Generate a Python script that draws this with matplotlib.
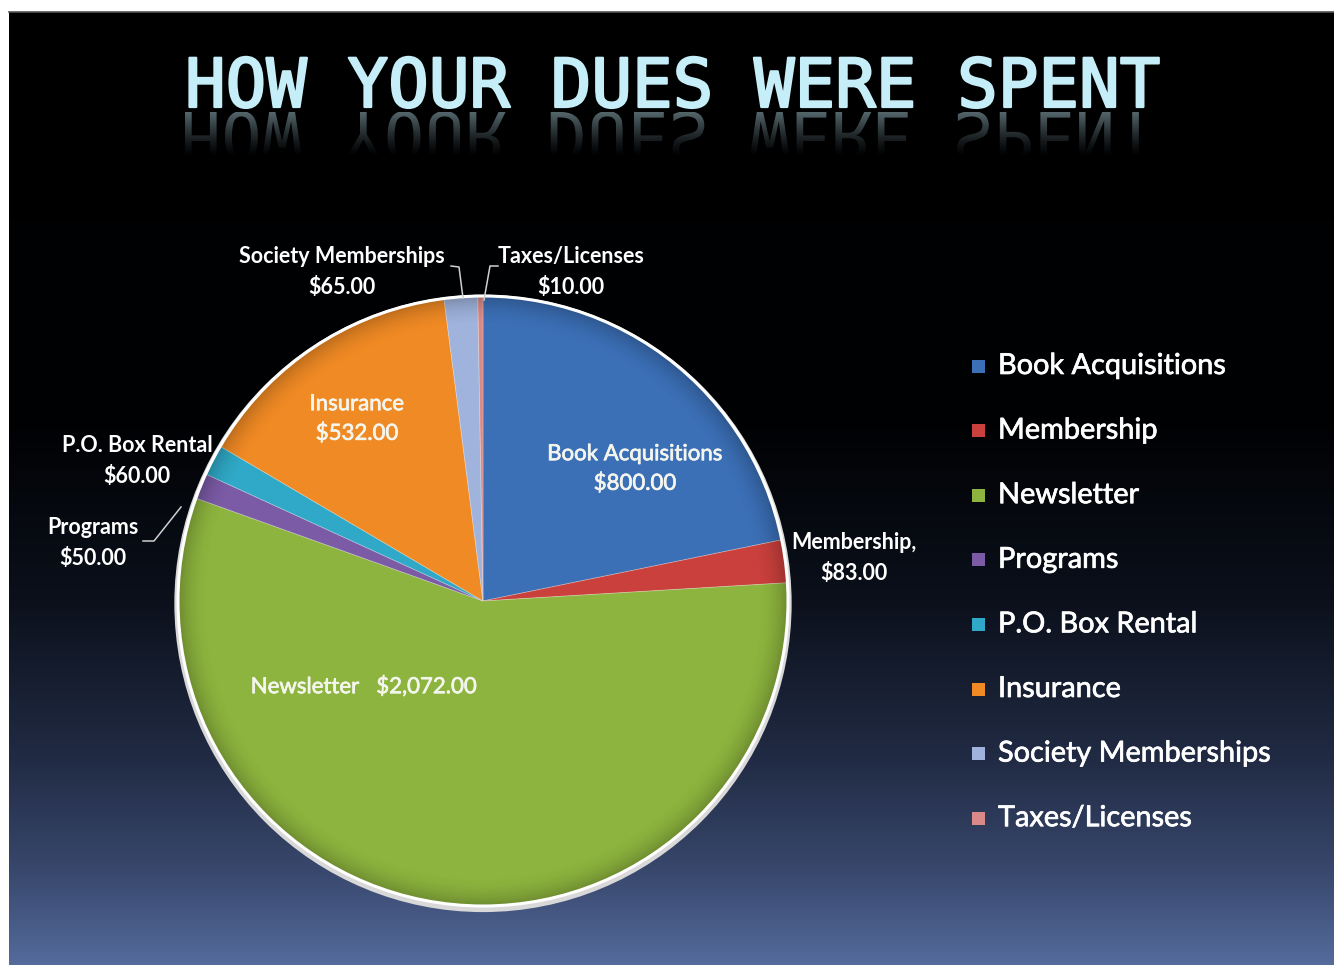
import numpy as np
import matplotlib
matplotlib.use('Agg')
import matplotlib.pyplot as plt
import matplotlib.patheffects as pe
from matplotlib.patches import Circle, PathPatch, Rectangle
from matplotlib.textpath import TextPath
from matplotlib.font_manager import FontProperties
from matplotlib.colors import to_rgb
from matplotlib.transforms import Affine2D

# ---------------- data ----------------
categories = ["Book Acquisitions", "Membership", "Newsletter", "Programs",
              "P.O. Box Rental", "Insurance", "Society Memberships", "Taxes/Licenses"]
amounts = [800, 83, 2072, 50, 60, 532, 65, 10]
title = "HOW YOUR DUES WERE SPENT"

# ---------------- style ----------------
colors = ["#3b6fb6", "#c9403c", "#8db43e", "#7b5ba6",
          "#2fa9c7", "#f08a24", "#9fb3dc", "#d98a88"]
FONT = "Lato"

W, H = 1334, 967
fig = plt.figure(figsize=(W / 100, H / 100), dpi=100)
fig.patch.set_facecolor("white")

# background (pixel coordinates)
bg = fig.add_axes([0, 0, 1, 1])
bg.set_xlim(0, W)
bg.set_ylim(H, 0)
bg.axis("off")
stops_y = [12, 430, 600, 760, 870, 965]
stops_c = ["#000000", "#010204", "#0b101b", "#212b44", "#38476c", "#546b9c"]
ys = np.arange(12, 966)
rgb = np.array([to_rgb(c) for c in stops_c])
grad = np.stack([np.interp(ys, stops_y, rgb[:, k]) for k in range(3)], axis=-1)[:, None, :]
bg.imshow(grad, extent=(9, W, 965, 12), origin="upper", aspect="auto",
          interpolation="bilinear", zorder=0)
bg.plot([9, W], [12, 12], color="#555555", lw=1.2, zorder=1)

# title
tx, tbase = 185, 107
tcol = "#c6eef8"
fig.text(tx / W, 1 - tbase / H, title, family="DejaVu Sans Mono", weight="normal",
         fontsize=48.6, color=tcol, ha="left", va="baseline",
         path_effects=[pe.withStroke(linewidth=1.6, foreground=tcol)])

# title reflection
fp = FontProperties(family="DejaVu Sans Mono", weight="normal")
tp = TextPath((0, 0), title, size=67.5, prop=fp)
x0 = tp.get_extents().x0
refl = PathPatch(tp, facecolor="none", edgecolor="none",
                 transform=Affine2D().translate(tx - x0, tbase + 5) + bg.transData)
bg.add_patch(refl)
ry = np.linspace(0, 1, 60)
rimg = np.zeros((60, 1, 4))
rimg[:, 0, :3] = to_rgb("#a9cdd6")
rimg[:, 0, 3] = 0.5 * np.clip(1 - ry / 0.75, 0, 1) ** 1.3
im = bg.imshow(rimg, extent=(170, 1180, tbase + 65, tbase + 5), origin="upper",
               aspect="auto", interpolation="bilinear", zorder=2)
im.set_clip_path(refl)

# ---------------- pie ----------------
R = 305
cx, cy = 483, 601
half = 350
ax = fig.add_axes([(cx - half) / W, (H - cy - half) / H, 2 * half / W, 2 * half / H])
ax.patch.set_alpha(0)
wedges, _ = ax.pie(amounts, colors=colors, startangle=90, counterclock=False, radius=1,
                   wedgeprops=dict(linewidth=0.6, edgecolor=(1, 1, 1, 0.3)))
lim = half / R
ax.axis("off")
ax.add_patch(Circle((0, -0.008), 1.012, facecolor="#d8d8d8", edgecolor="none", zorder=0))

# subtle bevel shading near the rim
n = 400
g = np.linspace(-1, 1, n)
gx, gy = np.meshgrid(g, g)
rr = np.sqrt(gx ** 2 + gy ** 2)
shade = np.zeros((n, n, 4))
shade[..., 3] = np.clip((rr - 0.9) / 0.1, 0, 1) ** 2 * 0.22
sim = ax.imshow(shade, extent=(-1, 1, -1, 1), origin="lower", zorder=4,
                interpolation="bilinear")
sim.set_clip_path(Circle((0, 0), 1.0, transform=ax.transData))
ax.set_xlim(-lim, lim)
ax.set_ylim(-lim, lim)
ax.add_patch(Circle((0, 0), 1.0, fill=False, edgecolor="white", lw=2.2, zorder=5))

def px(p, q):
    return ((p - cx) / R, (cy - q) / R)

inside = {
    0: (635, 469),
    2: (364, 687),
    5: (357, 419),
}
for i, (p, q) in inside.items():
    if i == 2:
        s = f"{categories[i]}   ${amounts[i]:,.2f}"
    else:
        s = f"{categories[i]}\n${amounts[i]:,.2f}"
    x, y = px(p, q)
    ax.text(x, y, s, ha="center", va="center", color="#f4f6ee", family=FONT,
            fontsize=16, linespacing=1.6, zorder=6,
            path_effects=[pe.withStroke(linewidth=0.5, foreground="#f4f6ee")])

outside = {
    1: (854, 558, "Membership,\n"),
    6: (342, 272, None),
    7: (571, 272, None),
    4: (137, 461, None),
    3: (93, 543, None),
}
for i, (p, q, lab) in outside.items():
    s = (lab if lab else categories[i] + "\n") + f"${amounts[i]:,.2f}"
    x, y = px(p, q)
    ax.text(x, y, s, ha="center", va="center", color="white", family=FONT,
            weight="bold", fontsize=15.5, linespacing=1.55, zorder=6, clip_on=False)

leaders = [
    [(451, 266), (459, 267), (463, 298)],
    [(498, 266), (490, 266), (484, 300)],
    [(143, 541), (154, 541), (181, 507)],
]
for pts in leaders:
    xy = np.array([px(p, q) for p, q in pts])
    ax.plot(xy[:, 0], xy[:, 1], color="#d0d0d0", lw=1.1, zorder=6, clip_on=False)

# ---------------- legend ----------------
for i, (name, c) in enumerate(zip(categories, colors)):
    yy = 366 + i * 64.6
    bg.add_patch(Rectangle((972, yy - 6.5), 13, 13, facecolor=c, edgecolor="none", zorder=3))
    bg.text(998, yy, name, color="white", family=FONT, fontsize=20.8, ha="left",
            va="center", zorder=3,
            path_effects=[pe.withStroke(linewidth=0.5, foreground="white")])

fig.savefig("out.png", dpi=100, facecolor=fig.get_facecolor())
